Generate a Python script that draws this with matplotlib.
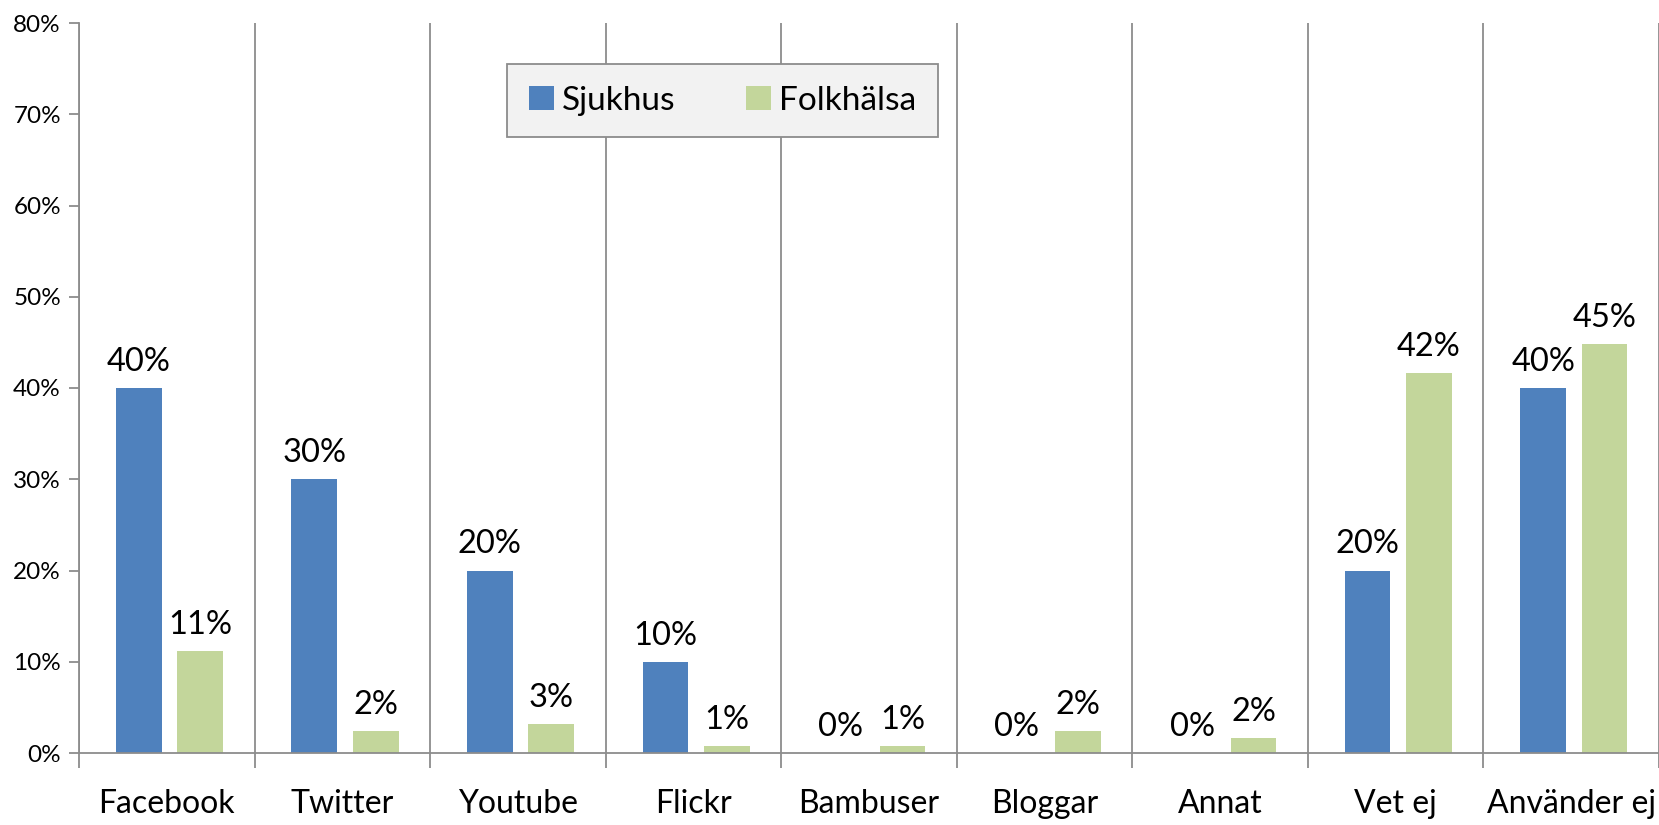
"""
Grouped bar chart: social media use, Sjukhus vs Folkhälsa.
"""
import numpy as np
import matplotlib
matplotlib.use("Agg")
import matplotlib.pyplot as plt  # noqa: E402

categories = ["Facebook", "Twitter", "Youtube", "Flickr", "Bambuser",
              "Bloggar", "Annat", "Vet ej", "Använder ej"]
sjukhus = [40, 30, 20, 10, 0, 0, 0, 20, 40]
folkhalsa = [11.2, 2.4, 3.2, 0.8, 0.8, 2.4, 1.6, 41.6, 44.8]
series_names = ["Sjukhus", "Folkhälsa"]
yticks = [0, 10, 20, 30, 40, 50, 60, 70, 80]

BLUE = "#4F81BD"
GREEN = "#C3D69B"
GRID = "#8C8C8C"

plt.rcParams["font.family"] = ["Lato", "DejaVu Sans"]

fig = plt.figure(figsize=(16.59, 8.25), dpi=100)
ax = fig.add_axes([79 / 1659, 72 / 825, 1 - 79 / 1659, (753 - 23) / 825])

x = np.arange(len(categories))
width = 0.26
b1 = ax.bar(x - 0.16, sjukhus, width, color=BLUE, label=series_names[0])
b2 = ax.bar(x + 0.19, folkhalsa, width, color=GREEN, label=series_names[1])

for bars, vals in ((b1, sjukhus), (b2, folkhalsa)):
    for rect, v in zip(bars, vals):
        ax.annotate(f"{v:.0f}%", (rect.get_x() + rect.get_width() / 2, v),
                    xytext=(0, 8), textcoords="offset points",
                    ha="center", va="bottom", fontsize=23.5)

ax.set_xlim(-0.5, len(categories) - 0.5)
ax.set_ylim(0, 80)
ax.set_yticks(yticks)
ax.set_yticklabels([f"{t}%" for t in yticks], fontsize=17.5)
ax.set_xticks(x)
ax.set_xticklabels(categories, fontsize=23)
ax.set_xticks(np.arange(len(categories) + 1) - 0.5, minor=True)
ax.tick_params(axis="x", which="major", length=0, pad=26)
ax.tick_params(axis="x", which="minor", length=11, color=GRID, width=1.3)
ax.tick_params(axis="y", length=7, color=GRID, width=1.3, pad=6)
ax.grid(axis="x", which="minor", color=GRID, linewidth=1.3)
ax.set_axisbelow(True)

for s in ("top", "right"):
    ax.spines[s].set_visible(False)
for s in ("left", "bottom"):
    ax.spines[s].set_color(GRID)
    ax.spines[s].set_linewidth(1.3)

leg = ax.legend(loc="upper left", bbox_to_anchor=(428 / 1580, 0.944),
                ncol=2, fontsize=24, frameon=True, fancybox=False,
                handlelength=0.75, handleheight=0.75, handletextpad=0.25,
                columnspacing=2.1, borderpad=0.65, borderaxespad=0)
leg.get_frame().set_facecolor("#F2F2F2")
leg.get_frame().set_edgecolor(GRID)
leg.get_frame().set_linewidth(1.3)
leg.get_frame().set_alpha(1)

fig.savefig("out.png", dpi=100)
